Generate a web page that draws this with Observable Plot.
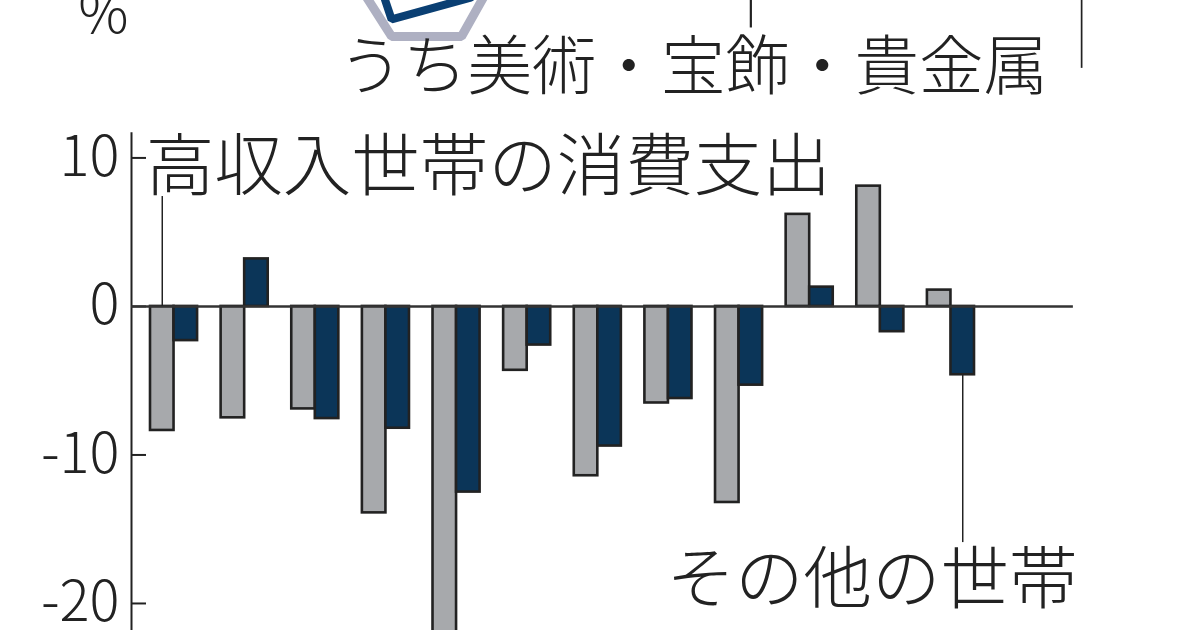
<!DOCTYPE html>
<html lang="ja">
<head>
<meta charset="utf-8">
<script src="https://cdn.jsdelivr.net/npm/d3@7"></script>
<script src="https://cdn.jsdelivr.net/npm/@observablehq/plot@0.6"></script>
<style>
html,body{margin:0;padding:0;background:#fff;overflow:hidden}
svg{display:block}
</style>
</head>
<body>
<div id="chart"></div>
<script>
const highIncome = [-8.35,-7.5,-6.9,-13.9,-22.5,-4.3,-11.4,-6.5,-13.2,6.2,8.1,1.1];
const otherHouseholds = [-2.3,3.2,-7.55,-8.2,-12.5,-2.6,-9.4,-6.2,-5.3,1.3,-1.7,-4.6];
const yTicks = [10,0,-10,-20];
const labelHigh = "高収入世帯の消費支出";
const labelOther = "その他の世帯";
const labelSub = "うち美術・宝飾・貴金属";
const unitLabel = "%";
const radarOuter = [[9.13,20.94],[10.24,18.18],[13.21,18.18],[14.19,20.94]];
const radarInner = [[9.9,20.94],[10.24,19.33],[13.6,20.8]];

const jp = "'Noto Sans CJK JP'";
const ink = "#222";
const axisLeft = -0.807;
const bars = (values, offset, fill) => Plot.rectY(values, {
  x1: (d,i) => 3*i + offset,
  x2: (d,i) => 3*i + offset + 1,
  y1: 0,
  y2: d => d,
  fill,
  stroke: ink,
  strokeWidth: 2.6
});
const note = (text, x, y, fontSize, extra = {}) => Plot.text([text], {
  x: () => x, y: () => y, text: d => d, fontSize, fontFamily: jp, fontWeight: 300,
  fill: ink, textAnchor: "start", lineAnchor: "middle", ...extra
});

const chart = Plot.plot({
  width: 1200, height: 630,
  marginLeft: 131, marginRight: 0, marginTop: 0, marginBottom: 0,
  style: {background: "#fff"},
  x: {type: "linear", domain: [0,35], range: [150,974], axis: null},
  y: {domain: [-21.82,20.6], range: [630,0], axis: null},
  marks: [
    Plot.line(radarOuter, {x: d => d[0], y: d => d[1], stroke: "#aeb0c2", strokeWidth: 9, strokeLinejoin: "miter"}),
    Plot.line(radarInner, {x: d => d[0], y: d => d[1], stroke: "#0a3f73", strokeWidth: 8, strokeLinejoin: "miter"}),
    bars(highIncome, 0, "#a7a9ac"),
    bars(otherHouseholds, 1, "#0b3558"),
    Plot.ruleX([axisLeft], {y1: 11.7, y2: -21.82, stroke: ink, strokeWidth: 2}),
    Plot.ruleY(yTicks, {x1: axisLeft, x2: -0.17, stroke: ink, strokeWidth: 2}),
    Plot.ruleY([0], {x1: axisLeft, x2: 39.2, stroke: "#333", strokeWidth: 2.5}),
    Plot.ruleX([0.5], {y1: 7.4, y2: 0, stroke: ink, strokeWidth: 1.5}),
    Plot.ruleX([34.5], {y1: -4.6, y2: -15.9, stroke: ink, strokeWidth: 1.5}),
    Plot.ruleX([25.5], {y1: 20.6, y2: 18.75, stroke: ink, strokeWidth: 2.2}),
    Plot.ruleX([39.55], {y1: 20.6, y2: 16.03, stroke: ink, strokeWidth: 1.7}),
    Plot.axisY({
      ticks: yTicks, tickSize: 0, tickPadding: 12, tickFormat: d => String(d),
      fontSize: 56, fontFamily: jp, fontWeight: 300, fill: ink, label: null
    }),
    note(labelSub, 7.99, 16.03, 64.5),
    note(labelHigh, -0.2, 9.29, 68.5),
    note(labelOther, 21.92, -18.5, 68.5),
    Plot.text([unitLabel], {x: () => -2.0, y: () => 19.6, text: d => d, fontSize: 56, fontFamily: jp, fontWeight: 300, fill: ink})
  ]
});
document.getElementById("chart").append(chart);
</script>
</body>
</html>
